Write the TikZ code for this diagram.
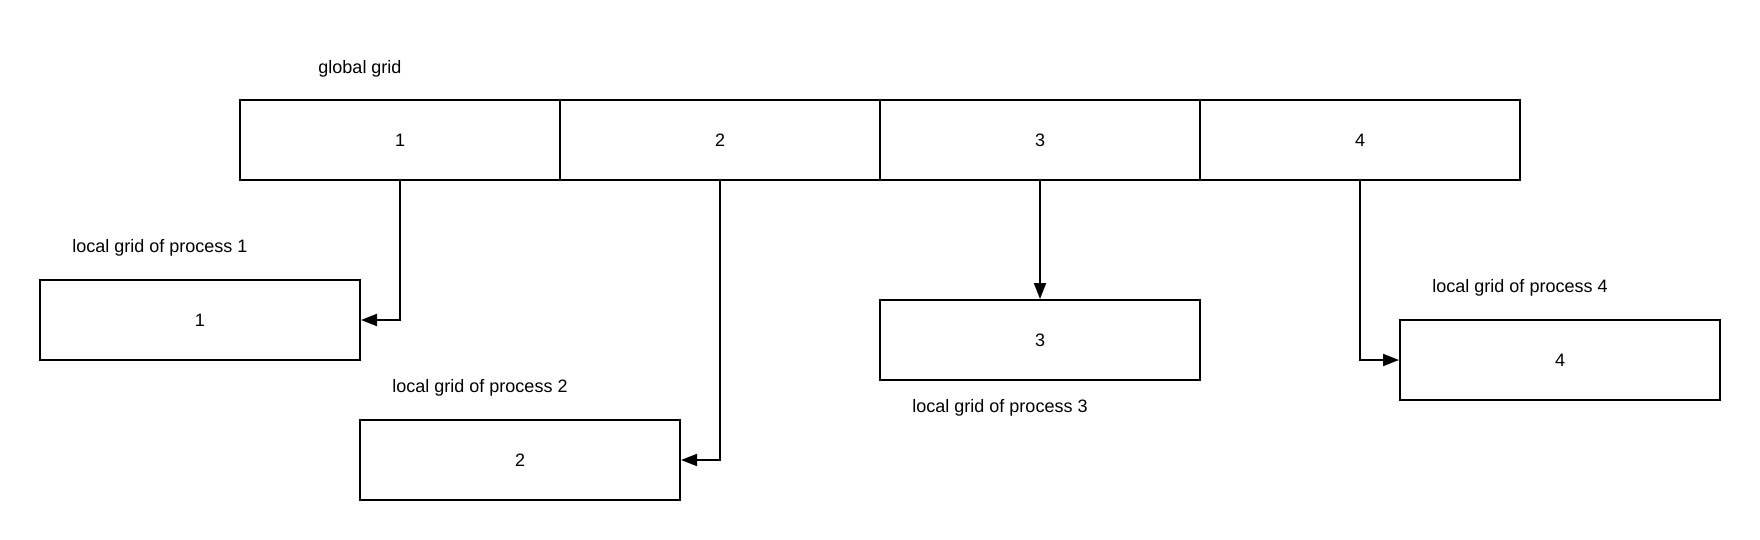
\documentclass[tikz,border=0pt]{standalone}
\usepackage{fontspec}
\setmainfont{Liberation Sans}
\usetikzlibrary{arrows.meta}
\begin{document}
\begin{tikzpicture}[x=0.5pt,y=-0.5pt]
        \tikzstyle{every node}=[font=\fontsize{9}{11}\selectfont];
        \tikzstyle{cell}=[draw,line width=1pt,minimum width=160pt,minimum height=40pt,inner sep=0pt];
        \tikzstyle{link}=[line width=1pt,-{Triangle[length=8pt,width=6pt]}];
        \useasboundingbox (0,0) rectangle (1760,540);
        %global grid
        \node (t0) at (360,69) {global grid};
        \node[cell] (g1) at (400,140) {1};
        \node[cell] (g2) at (720,140) {2};
        \node[cell] (g3) at (1040,140) {3};
        \node[cell] (g4) at (1360,140) {4};
        %local grids
        \node (t1) at (160,248) {local grid of process 1};
        \node (t2) at (480,388) {local grid of process 2};
        \node (t3) at (1000,408) {local grid of process 3};
        \node (t4) at (1520,288) {local grid of process 4};
        \node[cell] (l1) at (200,320) {1};
        \node[cell] (l2) at (520,460) {2};
        \node[cell] (l3) at (1040,340) {3};
        \node[cell] (l4) at (1560,360) {4};
        \draw[link] (g1.south) |- (l1.east);
        \draw[link] (g2.south) |- (l2.east);
        \draw[link] (g3.south) -- (l3.north);
        \draw[link] (g4.south) |- (l4.west);
    \end{tikzpicture}
\end{document}
